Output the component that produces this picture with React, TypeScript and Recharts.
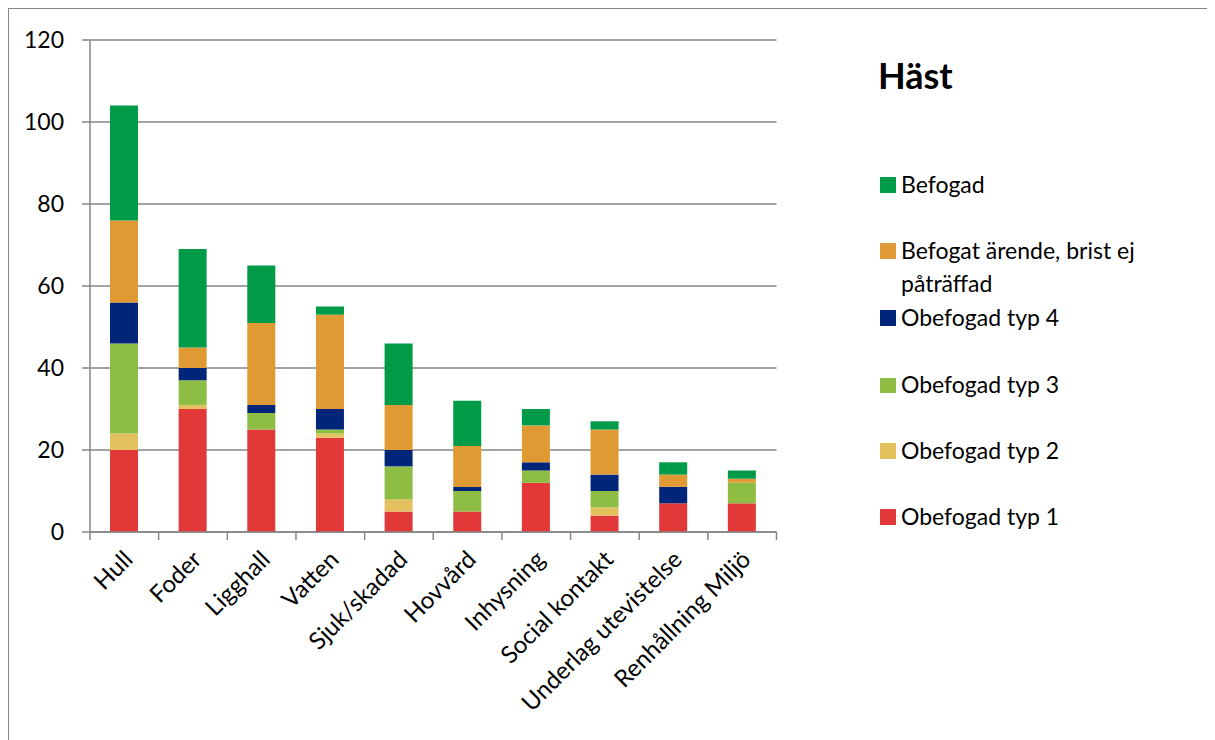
import * as React from "react";
import { BarChart, Bar, XAxis, YAxis, CartesianGrid } from "recharts";

const categories = [
  "Hull",
  "Foder",
  "Ligghall",
  "Vatten",
  "Sjuk/skadad",
  "Hovvård",
  "Inhysning",
  "Social kontakt",
  "Underlag utevistelse",
  "Renhållning Miljö",
];

const obefogadTyp1 = [20, 30, 25, 23, 5, 5, 12, 4, 7, 7];
const obefogadTyp2 = [4, 1, 0, 1, 3, 0, 0, 2, 0, 0];
const obefogadTyp3 = [22, 6, 4, 1, 8, 5, 3, 4, 0, 5];
const obefogadTyp4 = [10, 3, 2, 5, 4, 1, 2, 4, 4, 0];
const befogatEjBrist = [20, 5, 20, 23, 11, 10, 9, 11, 3, 1];
const befogad = [28, 24, 14, 2, 15, 11, 4, 2, 3, 2];

const yTicks = [0, 20, 40, 60, 80, 100, 120];

const series = [
  { key: "typ1", name: "Obefogad typ 1", color: "#E23838", values: obefogadTyp1 },
  { key: "typ2", name: "Obefogad typ 2", color: "#E3C25E", values: obefogadTyp2 },
  { key: "typ3", name: "Obefogad typ 3", color: "#8DBD42", values: obefogadTyp3 },
  { key: "typ4", name: "Obefogad typ 4", color: "#002579", values: obefogadTyp4 },
  { key: "ejbrist", name: "Befogat ärende, brist ej påträffad", color: "#DF9A33", values: befogatEjBrist },
  { key: "befogad", name: "Befogad", color: "#009B48", values: befogad },
];

const data = categories.map((c, i) => {
  const row: any = { category: c };
  series.forEach((s) => (row[s.key] = s.values[i]));
  return row;
});

const FONT = "Lato, 'Open Sans', sans-serif";
const AXIS = "#868686";
const BAND = 686.5 / categories.length;

function XTick(props: any) {
  const { x, payload, index } = props;
  const half = BAND / 2;
  const ay = 523; // axis line (chart coords)
  const tx = x + 10;
  const ty = ay + 29;
  return (
    <g>
      <line x1={x - half} y1={ay} x2={x - half} y2={ay + 8} stroke={AXIS} strokeWidth={1.5} />
      {index === categories.length - 1 && (
        <line x1={x + half} y1={ay} x2={x + half} y2={ay + 8} stroke={AXIS} strokeWidth={1.5} />
      )}
      <text
        x={tx}
        y={ty}
        transform={`rotate(-45, ${tx}, ${ty})`}
        textAnchor="end"
        fontSize={24}
        fontFamily={FONT}
        fill="#000"
      >
        {payload.value}
      </text>
    </g>
  );
}

// line-top positions of each legend entry (container coords)
const legendTops = [158.5, 224.5, 291.5, 359, 424.8, 490.8];

function LegendBox() {
  const items = [...series].reverse();
  return (
    <div style={{ position: "absolute", left: 869, top: 0, width: 320, height: 600, fontFamily: FONT, color: "#000" }}>
      <div style={{ position: "absolute", left: 0, top: 44, fontSize: 36, fontWeight: "bold", lineHeight: "44px" }}>
        Häst
      </div>
      {items.map((p, i) => (
        <div
          key={p.key}
          style={{
            position: "absolute",
            left: 0,
            top: legendTops[i],
            paddingLeft: 23,
            fontSize: 23,
            lineHeight: "33px",
            width: 290,
          }}
        >
          <span style={{ position: "absolute", left: 2, top: 9.5, width: 15.5, height: 15.5, background: p.color }} />
          {p.name}
        </div>
      ))}
    </div>
  );
}

export default function App() {
  return (
    <div
      style={{
        width: 1198,
        height: 740,
        border: "1px solid #868686",
        borderBottom: "none",
        position: "relative",
        background: "#fff",
      }}
    >
      <BarChart
        width={1198}
        height={731}
        data={data}
        margin={{ top: 31, right: 430.5, left: 0, bottom: 0 }}
        barSize={28}
      >
        <CartesianGrid vertical={false} stroke={AXIS} strokeWidth={1.5} />
        <XAxis
          dataKey="category"
          interval={0}
          height={208}
          tickLine={false}
          axisLine={{ stroke: AXIS, strokeWidth: 1.5 }}
          tick={<XTick />}
        />
        <YAxis
          width={81}
          domain={[0, 120]}
          ticks={yTicks}
          tickSize={8}
          tickMargin={18}
          tickLine={{ stroke: AXIS, strokeWidth: 1.5 }}
          axisLine={{ stroke: AXIS, strokeWidth: 1.5 }}
          tick={{ fill: "#000", fontSize: 23, fontFamily: FONT }}
        />
        {series.map((s) => (
          <Bar key={s.key} dataKey={s.key} name={s.name} stackId="a" fill={s.color} isAnimationActive={false} />
        ))}
      </BarChart>
      <LegendBox />
    </div>
  );
}
